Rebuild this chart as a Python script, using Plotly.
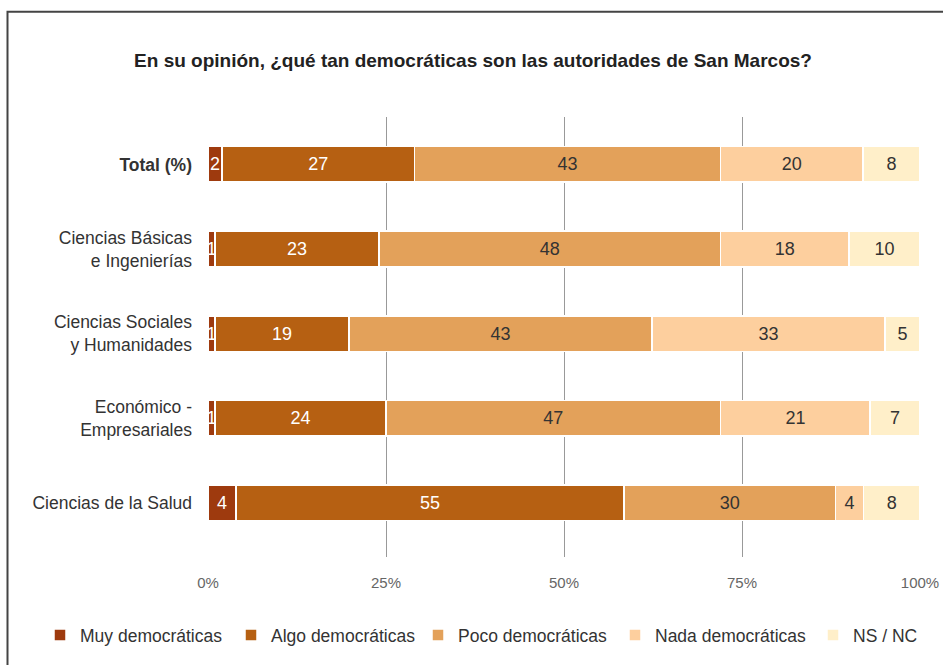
import plotly.graph_objects as go

categories = ["<b>Total (%)</b>", "Ciencias Básicas<br>e Ingenierías", "Ciencias Sociales<br>y Humanidades",
              "Económico -<br>Empresariales", "Ciencias de la Salud"]
series_names = ["Muy democráticas", "Algo democráticas", "Poco democráticas", "Nada democráticas", "NS / NC"]
muy = [2, 1, 1, 1, 4]
algo = [27, 23, 19, 24, 55]
poco = [43, 48, 43, 47, 30]
nada = [20, 18, 33, 21, 4]
nsnc = [8, 10, 5, 7, 8]
x_ticks = [0, 25, 50, 75, 100]
x_tick_labels = ["0%", "25%", "50%", "75%", "100%"]

colors = ["#9E3A0E", "#B66012", "#E3A15A", "#FDCF9E", "#FFEFC9"]
text_colors = ["white", "white", "#333333", "#333333", "#333333"]
legend_marker_px = [62, 253, 440, 637, 835]   # legend entry positions (pixels)
FONT = "Liberation Sans Narrow, Arial Narrow, Liberation Sans, Arial, sans-serif"

W, H = 943, 665
PL, PR, PT, PB = 208, 920, 117, 562
LEG_Y = 641

fig = go.Figure()
legend_layouts = {}
for i, (name, vals, c, tc, lx) in enumerate(zip(series_names, [muy, algo, poco, nada, nsnc],
                                                 colors, text_colors, legend_marker_px)):
    lname = "legend" if i == 0 else f"legend{i + 1}"
    fig.add_trace(go.Bar(
        y=categories, x=vals, name=name, orientation="h", legend=lname, showlegend=True,
        marker=dict(color=c, line=dict(color="white", width=1.5)),
        text=vals, texttemplate="%{text}", textposition="inside",
        insidetextanchor="middle", textangle=0,
        textfont=dict(color=tc, size=18, family=FONT),
    ))
    legend_layouts[lname] = dict(
        orientation="h", x=(lx - 22 - PL) / (PR - PL), xref="paper", xanchor="left",
        y=(PB - LEG_Y) / (PB - PT), yref="paper", yanchor="middle", visible=True,
        font=dict(size=17.5, color="#333333", family=FONT), bgcolor="rgba(0,0,0,0)")

fig.update_layout(
    showlegend=True,
    barmode="stack", barnorm="percent", bargap=0.58,
    width=W, height=H,
    margin=dict(l=PL, r=W - PR, t=PT, b=H - PB),
    paper_bgcolor="white", plot_bgcolor="white",
    font=dict(family=FONT, color="#333333", size=17),
    uniformtext=dict(minsize=18, mode="show"),
    title=dict(text="<b>En su opinión, ¿qué tan democráticas son las autoridades de San Marcos?</b>",
               x=473 / W, xref="container", xanchor="center", y=1 - 60 / H, yref="container", yanchor="middle",
               font=dict(size=19, color="#222222", family=FONT)),
    xaxis=dict(range=[0, 100], tickvals=x_ticks, ticktext=x_tick_labels, automargin=False,
               showgrid=True, gridcolor="#999999", gridwidth=1.2, zeroline=False,
               showline=False, ticks="", tickfont=dict(color="#666666", size=15),
               ticklabelstandoff=15),
    yaxis=dict(categoryorder="array", categoryarray=categories, automargin=False,
               range=[4.64, -0.56], showgrid=False, zeroline=False, showline=False,
               ticks="", ticklabelstandoff=15, tickfont=dict(size=17.5, color="#333333")),
    shapes=[dict(type="rect", xref="paper", yref="paper",
                 x0=(7.5 - PL) / (PR - PL), x1=1.2, y0=-1, y1=(PB - 10.5) / (PB - PT),
                 line=dict(color="#444444", width=2), layer="below")],
    **legend_layouts,
)

fig.write_html("out.html", config={"displayModeBar": False},
               post_script="document.body.style.margin='0';document.body.style.overflow='hidden';")
